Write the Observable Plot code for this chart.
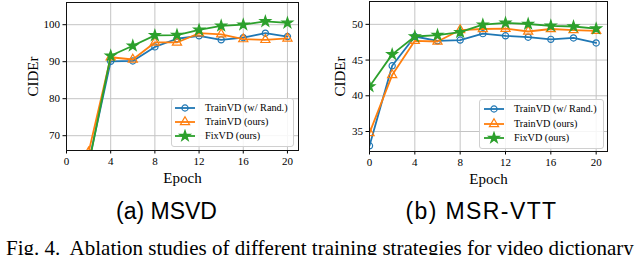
<!DOCTYPE html>
<html>
<head>
<meta charset="utf-8">
<script src="https://cdn.jsdelivr.net/npm/d3@7"></script>
<script src="https://cdn.jsdelivr.net/npm/@observablehq/plot@0.6"></script>
<style>
  html, body { margin: 0; padding: 0; background: #fff; }
  #wrap { position: relative; width: 640px; height: 255px; overflow: hidden; background: #fff; }
  .panel { position: absolute; top: 0; width: 320px; height: 190px; }
  .sub { position: absolute; font-family: "Liberation Sans", Arial, sans-serif; font-size: 23px; line-height: 23px; transform: translateX(-50%); white-space: nowrap; color: #000; }
  .cap { position: absolute; left: 6px; top: 238px; font-family: "Liberation Serif", serif; font-size: 21px; line-height: 21px; white-space: pre; color: #000; }
  .legend { position: absolute; background: rgba(255,255,255,0.85); border: 1px solid #d0d0d0; border-radius: 3px; font-family: "Liberation Serif", serif; font-size: 10.2px; color: #000; }
  .legend .row { position: absolute; left: 0; height: 14px; line-height: 14px; white-space: nowrap; }
  .legend svg { position: absolute; top: 0; }
</style>
</head>
<body>
<div id="wrap"></div>
<script>
// ---------- data ----------
const xTicks = [0, 4, 8, 12, 16, 20];
const seriesNames = ["TrainVD (w/ Rand.)", "TrainVD (ours)", "FixVD (ours)"];
const seriesColors = ["#1f77b4", "#ff7f0e", "#2ca02c"];
const seriesSymbols = ["circle", "triangle", "star"];

// (a) MSVD
const msvdEpochs = [2, 4, 6, 8, 10, 12, 14, 16, 18, 20];
const msvdRand  = [62.6, 90.1, 90.2, 94.0, 96.2, 97.0, 95.9, 96.5, 97.7, 96.8];
const msvdTrain = [65.5, 91.2, 90.6, 95.2, 95.2, 97.7, 97.4, 96.1, 95.9, 96.3];
const msvdFix   = [62.0, 91.6, 94.3, 97.1, 97.2, 98.6, 99.7, 100.0, 100.9, 100.5];
const msvdYTicks = [70, 80, 90, 100];

// (b) MSR-VTT
const msrEpochs = [0, 2, 4, 6, 8, 10, 12, 14, 16, 18, 20];
const msrRand  = [33.0, 44.2, 48.3, 47.7, 47.8, 48.7, 48.4, 48.2, 47.9, 48.1, 47.4];
const msrTrain = [34.8, 42.9, 47.7, 47.6, 49.2, 49.35, 49.4, 49.0, 49.35, 49.2, 49.1];
const msrFix   = [41.3, 45.8, 48.3, 48.5, 48.9, 49.95, 50.2, 50.05, 49.8, 49.7, 49.4];
const msrYTicks = [35, 40, 45, 50];

const subTitles = ["(a) MSVD", "(b) MSR-VTT"];
const caption = "Fig. 4.  Ablation studies of different training strategies for video dictionary";

// ---------- drawing ----------
const symbolR = {circle: 3.1, triangle: 3.4, star: 3.3};

function symbolMark(rows, i) {
  const sym = seriesSymbols[i];
  const filled = sym === "star";
  return Plot.dot(rows, {
    x: "epoch", y: "value", symbol: () => sym,
    r: symbolR[sym],
    stroke: seriesColors[i], strokeWidth: 1.2,
    fill: filled ? seriesColors[i] : "none",
    clip: true
  });
}

function chart(epochs, valuesList, yDomain, yTicks, m, labelDx) {
  const rowsList = valuesList.map((vals, i) => vals.map((v, j) => ({epoch: epochs[j], value: v, name: seriesNames[i]})));
  const marks = [
    Plot.gridX(xTicks, {stroke: "#c4c4c4", strokeOpacity: 1, strokeWidth: 1}),
    Plot.gridY(yTicks, {stroke: "#c4c4c4", strokeOpacity: 1, strokeWidth: 1})
  ];
  rowsList.forEach((rows, i) => {
    marks.push(Plot.line(rows, {x: "epoch", y: "value", stroke: seriesColors[i], strokeWidth: 1.8, clip: true}));
    marks.push(symbolMark(rows, i));
  });
  marks.push(
    Plot.axisX(xTicks, {tickSize: 3.5, tickPadding: 3, label: null, tickFormat: d => String(d)}),
    Plot.axisY(yTicks, {tickSize: 3.5, tickPadding: 3, label: null, tickFormat: d => String(d)}),
    Plot.frame({stroke: "#111", strokeWidth: 1}),
    Plot.text(["Epoch"], {text: d => d, frameAnchor: "bottom", dy: 28, lineAnchor: "middle", fontSize: 15}),
    Plot.text(["CIDEr"], {text: d => d, frameAnchor: "left", dx: labelDx, rotate: -90, lineAnchor: "middle", textAnchor: "middle", fontSize: 15})
  );
  return Plot.plot({
    width: 320, height: 190,
    marginLeft: m[0], marginRight: m[1], marginTop: m[2], marginBottom: m[3],
    style: {fontFamily: "Liberation Serif, serif", fontSize: "11px", color: "#000", background: "transparent", overflow: "visible"},
    x: {domain: [0, 21]},
    y: {domain: yDomain},
    marks
  });
}

function legend(left, top, width, height, rowTops, lineX, textX) {
  const box = document.createElement("div");
  box.className = "legend";
  Object.assign(box.style, {left: left + "px", top: top + "px", width: width + "px", height: height + "px"});
  seriesNames.forEach((name, i) => {
    const row = document.createElement("div");
    row.className = "row";
    row.style.top = rowTops[i] + "px";
    row.style.width = width + "px";
    const ns = "http://www.w3.org/2000/svg";
    const svg = document.createElementNS(ns, "svg");
    svg.setAttribute("width", 24); svg.setAttribute("height", 14);
    svg.style.left = lineX + "px";
    const ln = document.createElementNS(ns, "line");
    ln.setAttribute("x1", 1); ln.setAttribute("x2", 21); ln.setAttribute("y1", 7); ln.setAttribute("y2", 7);
    ln.setAttribute("stroke", seriesColors[i]); ln.setAttribute("stroke-width", 1.8);
    svg.appendChild(ln);
    const p = document.createElementNS(ns, "path");
    const symType = {circle: d3.symbolCircle, triangle: d3.symbolTriangle, star: d3.symbolStar}[seriesSymbols[i]];
    const r = symbolR[seriesSymbols[i]];
    p.setAttribute("d", d3.symbol(symType, Math.PI * r * r)());
    p.setAttribute("transform", "translate(11,7)");
    p.setAttribute("stroke", seriesColors[i]); p.setAttribute("stroke-width", 1.2);
    p.setAttribute("fill", seriesSymbols[i] === "star" ? seriesColors[i] : "none");
    svg.appendChild(p);
    row.appendChild(svg);
    const t = document.createElement("span");
    t.textContent = name;
    t.style.position = "absolute"; t.style.left = textX + "px";
    row.appendChild(t);
    box.appendChild(row);
  });
  return box;
}

const wrap = document.getElementById("wrap");
const p1 = document.createElement("div"); p1.className = "panel"; p1.style.left = "0px";
p1.appendChild(chart(msvdEpochs, [msvdRand, msvdTrain, msvdFix], [66, 106], msvdYTicks, [66, 22, 2, 40], -33));
wrap.appendChild(p1);
const p2 = document.createElement("div"); p2.className = "panel"; p2.style.left = "320px";
p2.appendChild(chart(msrEpochs, [msrRand, msrTrain, msrFix], [32.2, 53.2], msrYTicks, [49, 33, 1, 39], -29));
wrap.appendChild(p2);

wrap.appendChild(legend(171, 98, 121, 47, [2, 16, 30], 2, 33));
wrap.appendChild(legend(479, 99, 123, 48, [2, 17, 31], 3, 34));

[[166.5, 200, 0], [481.5, 200, 1.4]].forEach(([x, y, ls], i) => {
  const d = document.createElement("div");
  d.className = "sub"; d.style.left = x + "px"; d.style.top = y + "px";
  d.style.letterSpacing = ls + "px";
  d.textContent = subTitles[i];
  wrap.appendChild(d);
});
const c = document.createElement("div");
c.className = "cap"; c.textContent = caption;
wrap.appendChild(c);
</script>
</body>
</html>
